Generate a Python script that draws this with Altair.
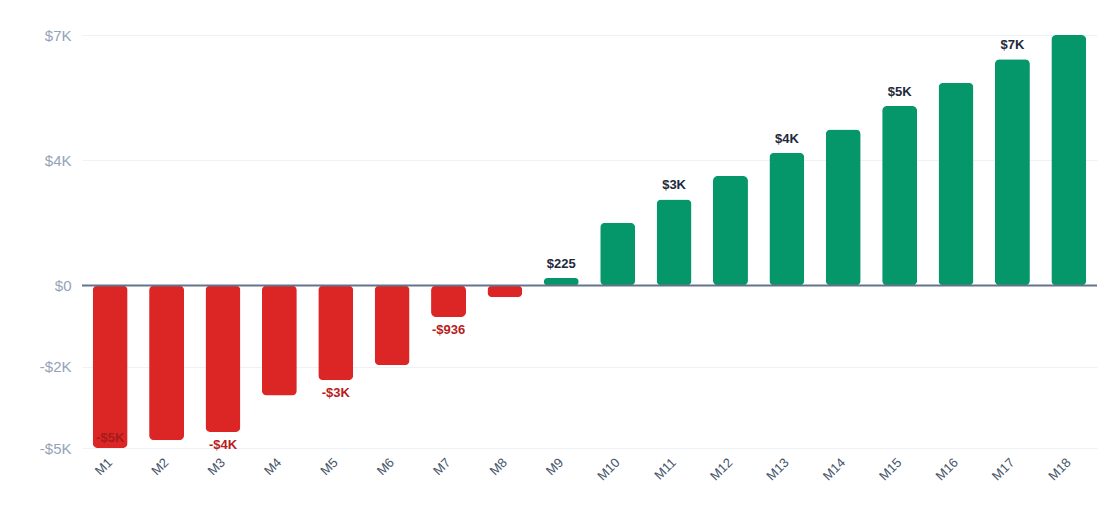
"""Monthly net result bar chart: losses in red, gains in green."""

import pandas as pd
import altair as alt

months = ["M1", "M2", "M3", "M4", "M5", "M6", "M7", "M8", "M9",
          "M10", "M11", "M12", "M13", "M14", "M15", "M16", "M17", "M18"]
values = [-4833, -4604, -4357, -3274, -2818, -2372, -936, -348, 225,
          1863, 2560, 3253, 3946, 4643, 5336, 6030, 6726, 7450]


def money(v):
    # short money label, e.g. $225, -$936, $3K
    sign = "-" if v < 0 else ""
    if abs(v) < 1000:
        return f"{sign}${abs(v)}"
    return f"{sign}${round(abs(v) / 1000)}K"


df = pd.DataFrame({"Month": months, "Value": values})
df["Label"] = df["Value"].apply(money)
df["Show"] = [i % 2 == 0 for i in range(len(df))]

y_min = min(values)
y_max = max(values)
tick_values = [y_min, y_min / 2, 0, y_max / 2, y_max]

font = "Liberation Sans"

x_enc = alt.X("Month:N", sort=None, title=None,
              scale=alt.Scale(paddingInner=0.38, paddingOuter=0.19),
              axis=alt.Axis(labelAngle=-45, labelAlign="right", labelBaseline="middle",
                            labelPadding=12, labelColor="#475569", labelFontSize=13,
                            labelFont=font, ticks=False, domain=False, grid=False))
y_enc = alt.Y("Value:Q", title=None,
              scale=alt.Scale(domain=[y_min, y_max], nice=False, zero=True),
              axis=alt.Axis(values=tick_values, ticks=False, domain=False,
                            gridColor="#eef2f6", gridWidth=1,
                            labelColor="#94a3b8", labelFontSize=15, labelFont=font,
                            labelPadding=11,
                            labelExpr="datum.value == 0 ? '$0' : (datum.value < 0 ? '-' : '') + '$' + format(abs(datum.value) / 1000, '.0f') + 'K'"))

base = alt.Chart(df).encode(x=x_enc, y=y_enc)

bars = base.mark_bar(cornerRadius=5).encode(
    color=alt.condition("datum.Value >= 0", alt.value("#059669"), alt.value("#dc2626"))
)

zero = alt.Chart(pd.DataFrame({"v": [0]})).mark_rule(color="#64748b", strokeWidth=2).encode(
    y=alt.Y("v:Q")
)

text_style = dict(fontWeight="bold", fontSize=13, font=font)

pos_labels = base.transform_filter("datum.Show && datum.Value >= 0").mark_text(
    baseline="bottom", dy=-7, color="#1e293b", **text_style
).encode(text="Label:N")

neg_labels = base.transform_filter(f"datum.Show && datum.Value < 0 && datum.Value > {y_min}").mark_text(
    baseline="top", dy=7, color="#b91c1c", **text_style
).encode(text="Label:N")

# the lowest bar has no room below, so its label goes inside
inner_labels = base.transform_filter(f"datum.Show && datum.Value <= {y_min}").mark_text(
    baseline="bottom", dy=-3, color="#a61b1b", **text_style
).encode(text="Label:N")

chart = (bars + zero + pos_labels + neg_labels + inner_labels).properties(
    width=1015,
    height=413,
    autosize="none",
    padding={"left": 74, "top": 27, "right": 14, "bottom": 60},
).configure_view(stroke=None)

chart.save("out.html", embed_options={"renderer": "svg", "actions": False})
